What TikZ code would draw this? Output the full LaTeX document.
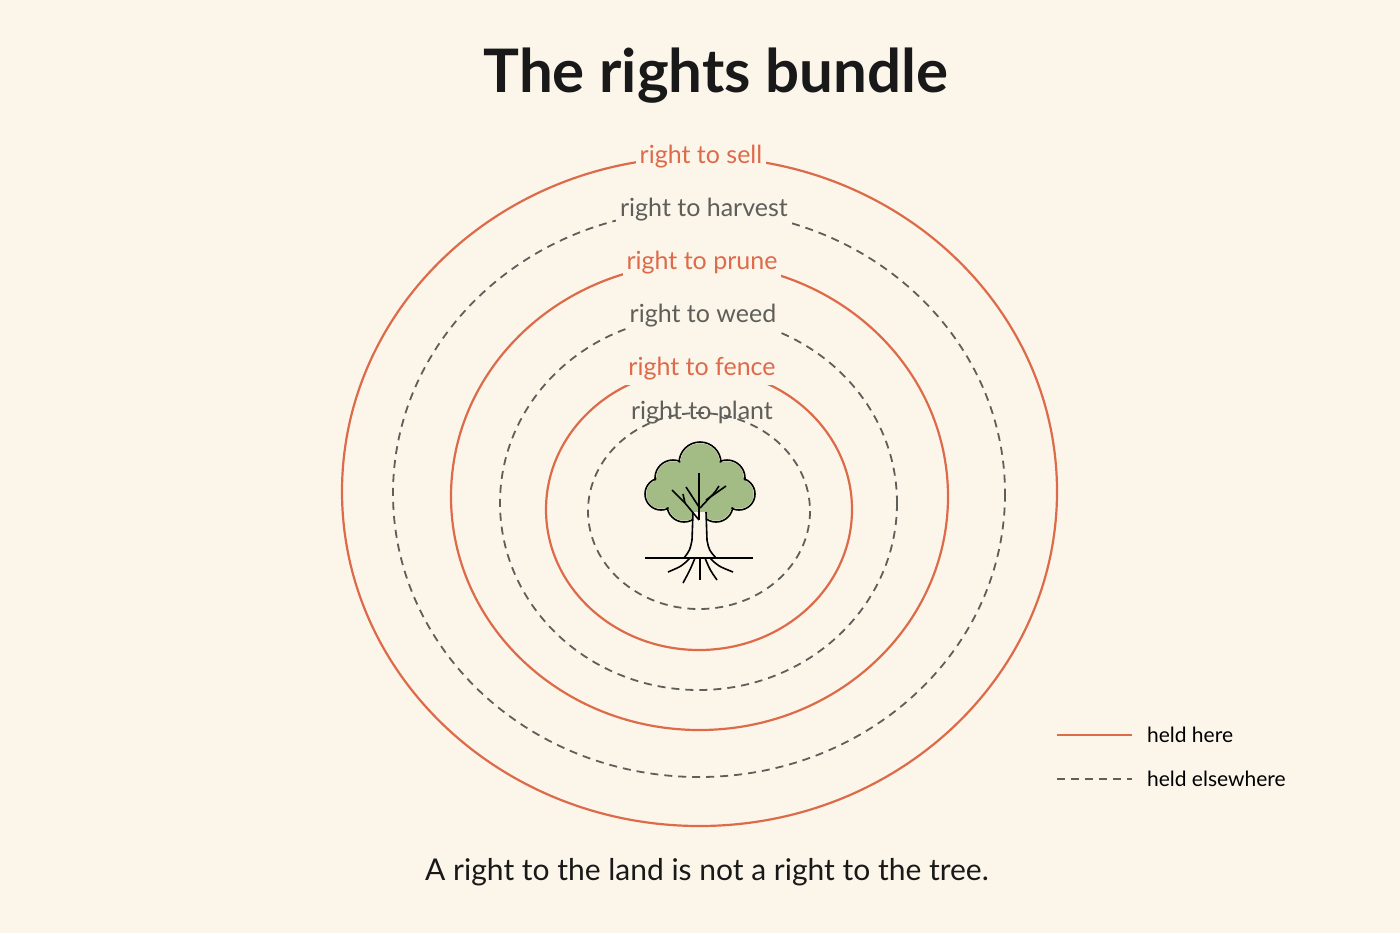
\documentclass[tikz,border=0pt]{standalone}
\usepackage{fontspec}
\setmainfont{Lato}
\begin{document}
\begin{tikzpicture}[x=0.5pt,y=-0.5pt,
  held/.style={draw=hc,line width=1.1pt},
  else/.style={draw=ec,line width=0.9pt,dash pattern=on 4pt off 3pt},
  lab/.style={fill=bg,inner sep=2pt,font=\fontsize{12.5}{14}\selectfont},
  hl/.style={lab,text=hc},
  el/.style={lab,text=ec}]
\definecolor{bg}{HTML}{FCF5EA}
\definecolor{hc}{HTML}{DD6B4A}
\definecolor{ec}{HTML}{5E5E5A}
\definecolor{leaf}{HTML}{A3BC86}
\fill[bg] (0,0) rectangle (1400,933);
\useasboundingbox (0,0) rectangle (1400,933);
\node[font=\bfseries\fontsize{30}{34}\selectfont,text=black!90] (title) at (716,76) {The rights bundle};
\draw[held] (699.5,491.5) ellipse [x radius=357.5,y radius=334.5];
\draw[else] (699,493.5) ellipse [x radius=306,y radius=283.5];
\draw[held] (699.5,496.5) ellipse [x radius=248.5,y radius=233.5];
\draw[else] (698.5,503) ellipse [x radius=198.5,y radius=187];
\draw[held] (699,509.5) ellipse [x radius=153,y radius=140.5];
\draw[else] (699,511) ellipse [x radius=111,y radius=98];
\node[hl] (sell) at (701,157) {right to sell};
\node[el] (harv) at (704,210) {right to harvest};
\node[hl] (prune) at (702,263) {right to prune};
\node[el] (weed) at (703,316) {right to weed};
\node[hl] (fence) at (702,369) {right to fence};
\node[el,fill=none] (plant) at (702,413) {right to plant};
% tree
\begin{scope}[line width=0.8pt]
\foreach \c/\r in {{700,463}/21,{673,478}/18,{727,478}/18,{661,494}/16,{739,494}/16,{684,505}/17,{716,505}/17,{700,490}/26}
  \draw[black] (\c) circle[radius=\r];
\foreach \c/\r in {{700,463}/21,{673,478}/18,{727,478}/18,{661,494}/16,{739,494}/16,{684,505}/17,{716,505}/17,{700,490}/26}
  \fill[leaf] (\c) circle[radius=\r-1.3];
\fill[bg] (693,512) -- (690,545) -- (684,558) -- (716,558) -- (709,545) -- (706,512) -- cycle;
\draw (693,512) -- (692,540) .. controls (690,550) .. (684,558);
\draw (706,512) -- (707,540) .. controls (709,550) .. (716,558);
\draw (699,473) -- (699,520);
\draw (699,520) -- (685,503) -- (672,490);
\draw (685,503) -- (683,494);
\draw (699,507) -- (686,487);
\draw (700,508) -- (715,492) -- (719,486);
\draw (706,500) -- (726,486);
\draw (645,558) -- (753,558);
\draw (690,558) .. controls (682,566) .. (668,572);
\draw (695,558) .. controls (690,570) .. (683,583);
\draw (700,558) -- (700,580);
\draw (705,558) .. controls (710,570) .. (717,580);
\draw (710,558) .. controls (718,566) .. (733,572);
\end{scope}
% legend
\coordinate (l1a) at (1057,735); \coordinate (l1b) at (1132,735);
\coordinate (l2a) at (1057,779); \coordinate (l2b) at (1132,779);
\draw[held] (l1a) -- (l1b);
\draw[else] (l2a) -- (l2b);
\node[anchor=west,font=\fontsize{10.5}{12}\selectfont] (lg1) at (1140,735) {held here};
\node[anchor=west,font=\fontsize{10.5}{12}\selectfont] (lg2) at (1140,779) {held elsewhere};
\node[font=\fontsize{15}{18}\selectfont,text=black!90] (cap) at (707,872) {A right to the land is not a right to the tree.};
\end{tikzpicture}
\end{document}
